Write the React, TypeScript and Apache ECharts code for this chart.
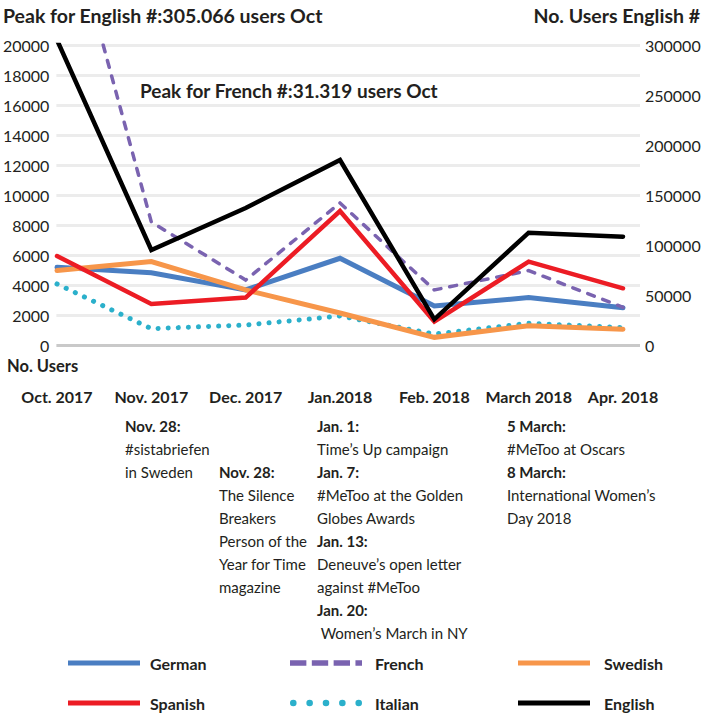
import React, { useEffect, useRef } from "react";
import * as echarts from "echarts";

const categories = ["Oct. 2017", "Nov. 2017", "Dec. 2017", "Jan.2018", "Feb. 2018", "March 2018", "Apr. 2018"];
const german = [5180, 4820, 3670, 5780, 2600, 3160, 2490];
const french = [31319, 8200, 4330, 9470, 3670, 4960, 2510];
const swedish = [4960, 5560, 3670, 2130, 510, 1290, 1050];
const spanish = [5930, 2730, 3160, 8930, 1560, 5560, 3780];
const italian = [4070, 1090, 1330, 1930, 730, 1450, 1160];
const english = [305066, 95000, 137000, 185000, 25700, 112300, 108300];

const leftTicks = { min: 0, max: 20000, interval: 2000 };
const rightTicks = { min: 0, max: 300000, interval: 50000 };

const FONT = "Lato";
const TXT = "#231f20";

const ICON_SOLID = "path://M0,0H72V5H0Z";
const ICON_DASH = "path://M0,0H15V5H0Z M20,0H35V5H20Z M40,0H55V5H40Z M60,0H66V5H60Z";
const dot = (cx: number) => `M${cx - 3.2},3.2a3.2,3.2 0 1,0 6.4,0a3.2,3.2 0 1,0 -6.4,0Z`;
const ICON_DOTS = "path://" + [3.2, 19.1, 35, 50.9, 66.8].map(dot).join(" ");

export default function App() {
  const ref = useRef<HTMLDivElement>(null);
  useEffect(() => {
    const chart = echarts.init(ref.current!, undefined, { renderer: "svg" });
    const gridColors = ["#c9c9c9", "#ececec", "#ececec", "#ececec", "#ececec", "#ececec", "#ececec", "#ececec", "#ececec", "#ececec", "#ececec"];
    const mk = (name: string, data: number[], color: string, width: number, type: any, yAxisIndex: number, z: number) => ({
      name,
      type: "line",
      data,
      xAxisIndex: 0,
      yAxisIndex,
      symbol: "none",
      z,
      lineStyle: { color, width, type, cap: "round", join: "miter" },
      itemStyle: { color },
    });
    const leg = (name: string, icon: string, left: number, top: number, gap: number) => ({
      left,
      top,
      orient: "horizontal",
      itemWidth: 72,
      itemHeight: 14,
      icon,
      data: [{ name, icon }],
      textStyle: { fontFamily: FONT, fontWeight: "bold", fontSize: 16, color: TXT, padding: [0, 0, 6, gap] },
      selectedMode: false,
    });
    const annot = (x: number, y: number, text: string) => ({
      type: "text",
      left: x,
      top: y,
      style: {
        text,
        fontFamily: FONT,
        fontSize: 15,
        lineHeight: 23,
        fill: TXT,
        rich: {
          b: { fontFamily: FONT, fontSize: 15, fontWeight: "bold", lineHeight: 23, fill: TXT },
        },
      },
    });
    chart.setOption({
      animation: false,
      grid: [
        { left: 57, right: 87, top: 45, bottom: 371 },
        { left: 55, right: 70, top: 45, bottom: 371 },
      ],
      xAxis: [
        {
          type: "category",
          gridIndex: 0,
          data: categories,
          boundaryGap: false,
          axisLine: { show: false },
          axisTick: { show: false },
          axisLabel: { interval: 0, margin: 43, fontFamily: FONT, fontWeight: "bold", fontSize: 16, color: TXT },
        },
        { type: "value", gridIndex: 1, show: false, min: 0, max: 1 },
      ],
      yAxis: [
        { type: "value", gridIndex: 0, ...leftTicks, show: false },
        { type: "value", gridIndex: 0, ...rightTicks, show: false, position: "right" },
        {
          type: "value",
          gridIndex: 1,
          ...leftTicks,
          axisLine: { show: false },
          axisTick: { show: false },
          axisLabel: { margin: 7, fontFamily: FONT, fontSize: 16, color: TXT, formatter: (v: number) => String(v) },
          splitLine: { show: true, lineStyle: { color: gridColors, width: 3 } },
        },
        {
          type: "value",
          gridIndex: 1,
          position: "right",
          ...rightTicks,
          axisLine: { show: false },
          axisTick: { show: false },
          axisLabel: { margin: 5, fontFamily: FONT, fontSize: 16, color: TXT, formatter: (v: number) => String(v) },
          splitLine: { show: false },
        },
      ],
      legend: [
        leg("German", ICON_SOLID, 63, 650, 5),
        leg("Spanish", ICON_SOLID, 63, 690, 5),
        leg("French", ICON_DASH, 285, 650, 8),
        leg("Italian", ICON_DOTS, 285, 690, 8),
        leg("Swedish", ICON_SOLID, 513, 650, 9),
        leg("English", ICON_SOLID, 513, 690, 9),
      ],
      series: [
        mk("German", german, "#4a7ec2", 5, "solid", 0, 2),
        mk("Italian", italian, "#2bb0cb", 5, [0.1, 10], 0, 3),
        mk("French", french, "#7a63b0", 3.5, [7, 9], 0, 4),
        mk("Swedish", swedish, "#f7964a", 5, "solid", 0, 5),
        mk("Spanish", spanish, "#ec1c24", 4.5, "solid", 0, 6),
        mk("English", english, "#000000", 4.5, "solid", 1, 7),
      ],
      graphic: [
        { type: "text", left: 3, top: 5, style: { text: "Peak for English #:305.066 users Oct", fontFamily: FONT, fontWeight: "bold", fontSize: 19.5, fill: TXT } },
        { type: "text", right: 10, top: 5, style: { text: "No. Users English #", fontFamily: FONT, fontWeight: "bold", fontSize: 19.5, fill: TXT } },
        { type: "text", left: 140, top: 81, style: { text: "Peak for French #:31.319 users Oct", fontFamily: FONT, fontWeight: "bold", fontSize: 19, fill: TXT } },
        { type: "text", left: 7, top: 357, style: { text: "No. Users", fontFamily: FONT, fontWeight: "bold", fontSize: 16.5, fill: TXT } },
        annot(125, 414, "{b|Nov. 28:}\n#sistabriefen\nin Sweden"),
        annot(219, 460, "{b|Nov. 28:}\nThe Silence\nBreakers\nPerson of the\nYear for Time\nmagazine"),
        annot(317, 414, "{b|Jan. 1:}\nTime\u2019s Up campaign\n{b|Jan. 7:}\n#MeToo at the Golden\nGlobes Awards\n{b|Jan. 13:}\nDeneuve\u2019s open letter\nagainst #MeToo\n{b|Jan. 20:}\n Women\u2019s March in NY"),
        annot(507, 414, "{b|5 March:}\n#MeToo at Oscars\n{b|8 March:}\nInternational Women\u2019s\nDay 2018"),
      ],
    });
    return () => chart.dispose();
  }, []);
  return <div ref={ref} style={{ width: 710, height: 716, position: "absolute", left: 0, top: 0 }} />;
}
